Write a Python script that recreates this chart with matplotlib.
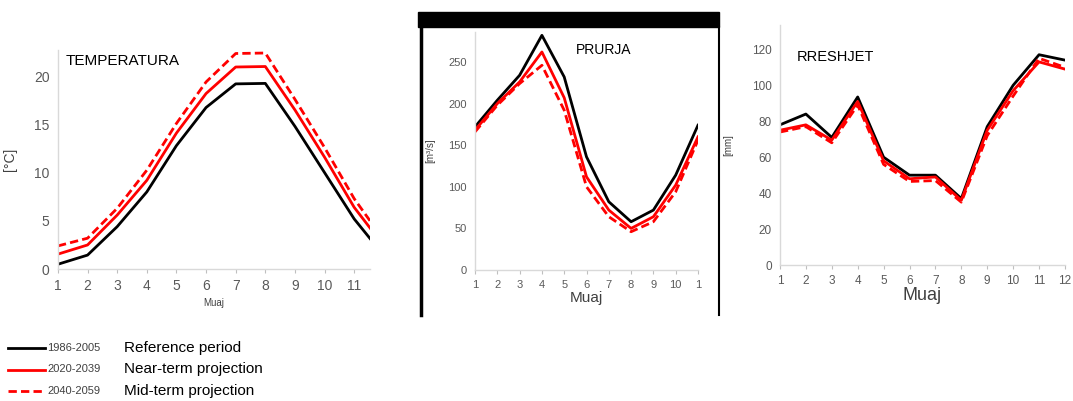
import matplotlib.pyplot as plt
from matplotlib.lines import Line2D

plt.rcParams['font.family'] = ['Liberation Sans', 'DejaVu Sans']

# temperature [°C], months 1-12 (12 is cropped in the original)
temp_months = list(range(1, 13))
temp_ref = [0.5, 1.45, 4.4, 8.0, 12.8, 16.75, 19.2, 19.25, 14.8, 10.0, 5.2, 1.4]
temp_near = [1.55, 2.5, 5.6, 9.2, 14.1, 18.2, 20.95, 21.0, 16.5, 11.6, 6.4, 2.4]
temp_mid = [2.4, 3.2, 6.3, 10.25, 15.1, 19.4, 22.35, 22.4, 17.6, 12.6, 7.3, 3.0]

# discharge [m3/s], months 1-11 visible
flow_months = list(range(1, 12))
flow_ref = [172, 204, 234, 282, 232, 136, 82, 58, 72, 114, 174]
flow_near = [168, 200, 226, 262, 207, 112, 72, 50, 64, 102, 160]
flow_mid = [166, 198, 224, 246, 192, 100, 64, 46, 58, 94, 156]

# precipitation [mm]
rain_months = list(range(1, 13))
rain_ref = [78, 84, 71, 93.5, 60, 50, 50, 37, 77, 100, 117, 114]
rain_near = [75, 78, 69.5, 91, 58, 48, 49, 36, 75, 97, 113, 109]
rain_mid = [74, 77, 68, 89, 56, 46.5, 47, 35, 72, 94, 115, 110]

legend_years = ['1986-2005', '2020-2039', '2040-2059']
legend_names = ['Reference period', 'Near-term projection', 'Mid-term projection']

tick_col = '#595959'
spine_col = '#d9d9d9'
W = 1073.0
H = 401.0

fig = plt.figure(figsize=(10.73, 4.01), dpi=100)


def px(x, y):
    # pixel position (top-left origin) -> figure fraction
    return x / W, 1 - y / H


def style(ax):
    for s in ['top', 'right']:
        ax.spines[s].set_visible(False)
    for s in ['left', 'bottom']:
        ax.spines[s].set_color(spine_col)
        ax.spines[s].set_linewidth(1.0)
    ax.tick_params(axis='y', length=0, colors=tick_col, labelsize=9, pad=6)
    ax.tick_params(axis='x', length=3, color='#bfbfbf', colors=tick_col, labelsize=9, pad=4)


def draw(ax, x, ref, near, mid):
    ax.plot(x, ref, color='black', lw=2)
    ax.plot(x, near, color='#ff0000', lw=2)
    ax.plot(x, mid, color='#ff0000', lw=2, ls=(0, (3, 1.5)))


# panel 1
ax1 = fig.add_axes([0.054, 0.329, 0.291, 0.546])
draw(ax1, temp_months, temp_ref, temp_near, temp_mid)
style(ax1)
ax1.set_xlim(1, 11.54)
ax1.set_ylim(0, 22.7)
ax1.set_xticks(temp_months[:11])
ax1.set_yticks([0, 5, 10, 15, 20])
ax1.tick_params(labelsize=10)
ax1.set_ylabel('[°C]', color='#404040', fontsize=10, labelpad=12)
ax1.set_xlabel('Muaj', color='#404040', fontsize=7, labelpad=4)
fig.text(*px(66, 61), 'TEMPERATURA', fontsize=11, color='black', va='center')

# panel 2 with its black frame
ax2 = fig.add_axes([0.4427, 0.3267, 0.2078, 0.5935])
draw(ax2, flow_months, flow_ref, flow_near, flow_mid)
style(ax2)
ax2.set_xlim(1, 11)
ax2.set_ylim(0, 286)
ax2.set_xticks(flow_months)
ax2.set_xticklabels([str(m) for m in flow_months[:10]] + ['1'])
ax2.set_yticks([0, 50, 100, 150, 200, 250])
ax2.tick_params(labelsize=8)
ax2.set_ylabel('[m³/s]', color='#404040', fontsize=7, labelpad=9)
ax2.set_xlabel('Muaj', color='#404040', fontsize=11, labelpad=1)
fig.text(*px(576, 50), 'PRURJA', fontsize=10, color='black', va='center')

fig.patches.append(plt.Rectangle(px(418, 27), 301 / W, 15 / H,
                                 transform=fig.transFigure, color='black', zorder=5))
fig.add_artist(Line2D([420.5 / W, 420.5 / W], [1 - 27 / H, 1 - 315 / H], color='black', lw=2.5))
fig.add_artist(Line2D([718.5 / W, 718.5 / W], [1 - 27 / H, 1 - 315 / H], color='black', lw=1.5))

# panel 3
ax3 = fig.add_axes([0.7269, 0.339, 0.2656, 0.5985])
draw(ax3, rain_months, rain_ref, rain_near, rain_mid)
style(ax3)
ax3.set_xlim(1, 12)
ax3.set_ylim(0, 133.5)
ax3.set_xticks(rain_months)
ax3.set_yticks([0, 20, 40, 60, 80, 100, 120])
ax3.tick_params(labelsize=8.5)
ax3.set_ylabel('[mm]', color='#404040', fontsize=7, labelpad=13)
ax3.set_xlabel('Muaj', color='#404040', fontsize=13, labelpad=0)
fig.text(*px(797, 57), 'RRESHJET', fontsize=10.5, color='black', va='center')

# legend at bottom left
legend_styles = [('black', '-'), ('#ff0000', '-'), ('#ff0000', (0, (3, 1.5)))]
for i, (yr, name) in enumerate(zip(legend_years, legend_names)):
    y = 1 - (348 + i * 21.5) / H
    col, ls = legend_styles[i]
    fig.add_artist(Line2D([8 / W, 45 / W], [y, y], color=col, ls=ls, lw=2))
    fig.text(47 / W, y, yr, fontsize=8, color='#404040', va='center')
    fig.text(124 / W, y, name, fontsize=11, color='black', va='center')

fig.savefig('out.png', dpi=100)
